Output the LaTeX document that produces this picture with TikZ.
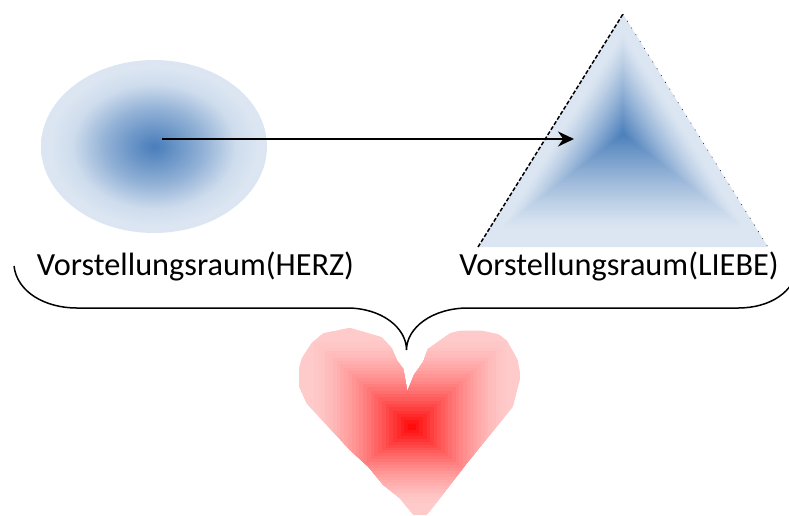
\documentclass[tikz,border=0pt]{standalone}
\usepackage{fontspec}
\setmainfont{Carlito}
\usepackage{tikz}
\usetikzlibrary{arrows.meta,calc,shapes.geometric}
\usepackage{xcolor}
\definecolor{blobin}{RGB}{74,126,187}
\definecolor{blobout}{RGB}{220,230,242}
\definecolor{hrzin}{RGB}{255,0,0}
\definecolor{hrzout}{RGB}{255,202,202}
\pgfdeclareradialshading{blob}{\pgfpoint{0bp}{0bp}}{
  color(0bp)=(blobin); color(2bp)=(blobin!92!blobout); color(11bp)=(blobin!50!blobout);
  color(18bp)=(blobin!10!blobout); color(23bp)=(blobout); color(50bp)=(blobout)}
\tikzset{
  lbl/.style={font=\fontsize{32.3}{36}\selectfont,text=black,inner sep=0pt,anchor=base},
  herzblob/.style={ellipse,shading=blob,minimum width=226pt,minimum height=173pt,inner sep=0pt},
  arr/.style={-{Stealth[length=16pt,width=15pt]},line width=2.5pt,black},
  klammer/.style={black,line width=1.5pt},
}
\begin{document}
\begin{tikzpicture}[x=1pt,y=-1pt]
  \useasboundingbox (0,0) rectangle (789,515);
  \node[herzblob] (blob) at (154,146.5) {};
  % triangle
  \coordinate (top) at (623,14);
  \coordinate (bl) at (478,247);
  \coordinate (br) at (768,247);
  \coordinate (mid) at (623,134);
  \foreach \i in {60,59,...,1}{
    \pgfmathsetmacro{\frac}{\i/60}
    \pgfmathsetmacro{\mix}{100*max(0,1-\frac/0.85)^1.2}
    \fill[blobin!\mix!blobout] ($(mid)!\frac!(top)$) -- ($(mid)!\frac!(bl)$) -- ($(mid)!\frac!(br)$) -- cycle;
  }
  \draw[black,line width=1.5pt,dash pattern=on 4pt off 2pt] (bl) -- (top);
  \draw[black,line width=.5pt,dash pattern=on 1pt off 7pt] (top) -- (br);
  % heart
  \coordinate (hmid) at (412,427);
  \begin{scope}
    \clip (323.3,333.3) -- (350,327.7) -- (381.7,337.3) -- (391.7,348.3) -- (396.7,360)
      -- (403.3,369) -- (407.3,391.7) -- (414,375) -- (423.3,361.7) -- (427.7,349.3)
      -- (450,333.3) -- (460,330.7) -- (481.7,330.7) -- (498.3,334.3) -- (506.7,340.7)
      -- (517.7,360) -- (520.7,376.7) -- (512.7,406.7) -- (466.7,463.3) -- (433.3,506.7)
      -- (426.7,515) -- (413.3,515) -- (400,498.3) -- (383.3,485) -- (368.3,466.7)
      -- (350,450) -- (306.7,403.3) -- (299,386.7) -- (299,368.3) -- (301.7,358.3)
      -- (311.7,343.3) -- cycle;
    \foreach \i in {30,29,...,1}{
      \pgfmathsetmacro{\frac}{\i/30}
      \pgfmathsetmacro{\mix}{100*max(0,1-\frac/0.9)^1.5}
      \fill[hrzin!\mix!hrzout] ($(hmid)+(-113*\frac,-99*\frac)$) rectangle ($(hmid)+(109*\frac,88*\frac)$);
    }
  \end{scope}
  % labels
  \node[lbl] (herz) at (195.5,275) {Vorstellungsraum(HERZ)};
  \node[lbl] (liebe) at (619,275) {Vorstellungsraum(LIEBE)};
  % arrow
  \coordinate (von) at (162,139);
  \coordinate (nach) at (574,139);
  \draw[arr] (von) -- (nach);
  % brace
  \coordinate (kl) at (14,266);
  \coordinate (kr) at (798,266);
  \coordinate (kspitze) at (406.5,350);
  \draw[klammer] (kl) .. controls (17,292) and (45,308) .. (77,308) -- (347,308)
    .. controls (382,308) and (406.5,328) .. (kspitze)
    .. controls (406.5,328) and (432,308) .. (468,308) -- (738,308)
    .. controls (770,308) and (795,292) .. (kr);
\end{tikzpicture}
\end{document}
